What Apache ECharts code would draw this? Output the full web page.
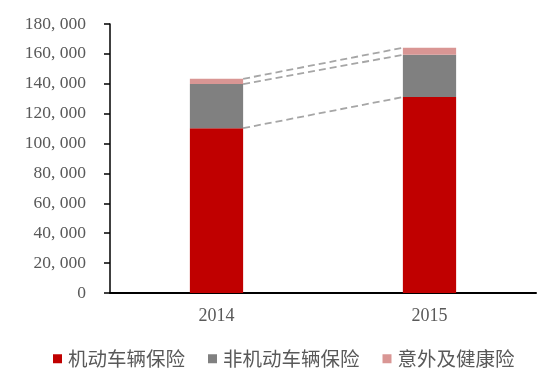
<!DOCTYPE html>
<html><head><meta charset="utf-8">
<script src="https://cdn.jsdelivr.net/npm/echarts@6/dist/echarts.min.js"></script>
<style>html,body{margin:0;padding:0;background:#fff}#c{width:539px;height:387px}</style>
</head><body><div id="c"></div>
<script>
const categories = ['2014', '2015'];
const motor = [110300, 131100];
const nonMotor = [29500, 28300];
const accident = [3500, 4700];
const seriesNames = ['机动车辆保险', '非机动车辆保险', '意外及健康险'];
const yTicks = { min: 0, max: 180000, interval: 20000 };

const BAR_FRAC = 0.25;
const lvl1 = motor;
const lvl2 = motor.map((v, i) => v + nonMotor[i]);
const lvl3 = lvl2.map((v, i) => v + accident[i]);
const x0 = 0.5 + BAR_FRAC / 2, x1 = 1.5 - BAR_FRAC / 2;
function conn(arr) { return [[x0, arr[0]], [x1, arr[1]]]; }
const dashStyle = { color: '#A6A6A6', width: 1.8, type: [7, 4] };
function connSeries(arr) {
  return { type: 'line', xAxisIndex: 1, data: conn(arr), symbol: 'none', silent: true,
    lineStyle: dashStyle, z: 1 };
}
const chart = echarts.init(document.getElementById('c'));
chart.setOption({
  animation: false,
  grid: { left: 110, right: 3, top: 24, bottom: 94 },
  legend: {
    data: seriesNames, left: 48, top: 344, itemWidth: 9, itemHeight: 9, itemGap: 23,
    icon: 'rect',
    textStyle: { fontFamily: 'Noto Sans CJK SC', fontSize: 19.5, color: '#595959', padding: [0, 0, 0, 1] }
  },
  xAxis: [{
    type: 'category', data: categories,
    axisLine: { lineStyle: { color: '#000', width: 2 } },
    axisTick: { show: false },
    axisLabel: { fontFamily: 'Liberation Serif', fontSize: 18, color: '#595959', margin: 14 }
  }, {
    type: 'value', min: 0, max: 2, show: false
  }],
  yAxis: {
    type: 'value', min: yTicks.min, max: yTicks.max, interval: yTicks.interval,
    splitLine: { show: false },
    axisLine: { show: true, lineStyle: { color: '#000', width: 1.5 } },
    axisTick: { show: true, length: 6, inside: false, lineStyle: { color: '#000', width: 1.5 } },
    axisLabel: {
      fontFamily: 'Liberation Serif', fontSize: 17.5, color: '#595959', margin: 24,
      formatter: v => v === 0 ? '0' : v.toLocaleString('en-US').replace(/,/g, ', ')
    }
  },
  series: [
    { name: seriesNames[0], type: 'bar', stack: 's', data: motor, barWidth: (BAR_FRAC * 100) + '%', itemStyle: { color: '#C00000' } },
    { name: seriesNames[1], type: 'bar', stack: 's', data: nonMotor, itemStyle: { color: '#808080' } },
    { name: seriesNames[2], type: 'bar', stack: 's', data: accident, itemStyle: { color: '#D99694' } },
    connSeries(lvl1), connSeries(lvl2), connSeries(lvl3)
  ]
});
</script></body></html>
